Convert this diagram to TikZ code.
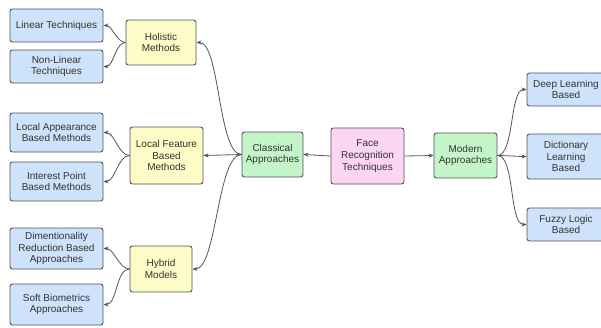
\documentclass[tikz,border=0pt]{standalone}
\usepackage{fontspec}
\setmainfont{Liberation Sans}
\usetikzlibrary{arrows.meta}
\definecolor{bluef}{HTML}{CFE2FB}
\definecolor{yellowf}{HTML}{FDFBC6}
\definecolor{greenf}{HTML}{C4F5C8}
\definecolor{pinkf}{HTML}{FCD4F4}
\definecolor{edgec}{HTML}{505356}
\definecolor{txtc}{HTML}{333333}
\begin{document}
\begin{tikzpicture}[x=1pt,y=-1pt,
  box/.style={draw=edgec, line width=0.9pt, rounded corners=2.5pt, align=center,
    inner sep=0pt, text=txtc, font=\fontsize{10}{11.7}\selectfont},
  bluebox/.style={box, fill=bluef},
  yellowbox/.style={box, fill=yellowf},
  greenbox/.style={box, fill=greenf},
  pinkbox/.style={box, fill=pinkf},
  conn/.style={draw=edgec, line width=0.8pt, -{Stealth[length=5pt,width=4pt]}}]
\useasboundingbox (0,0) rectangle (601,327);
\begin{scope}
\clip (0,0) rectangle (601,327);
\node[bluebox, minimum width=93pt, minimum height=33pt] (lin) at (56.5,25.5) {Linear Techniques};
\node[bluebox, minimum width=93pt, minimum height=33pt] (nonlin) at (56.5,66.5) {Non-Linear\\Techniques};
\node[yellowbox, minimum width=70pt, minimum height=45pt] (hol) at (161,42.5) {Holistic\\Methods};
\node[bluebox, minimum width=93pt, minimum height=39pt] (locapp) at (56.5,132.5) {Local Appearance\\Based Methods};
\node[bluebox, minimum width=93pt, minimum height=39pt] (intp) at (56.5,181.5) {Interest Point\\Based Methods};
\node[yellowbox, minimum width=73pt, minimum height=57pt] (locf) at (166.5,155.5) {Local Feature\\Based\\Methods};
\node[bluebox, minimum width=93pt, minimum height=41pt] (dim) at (56.5,248.5) {Dimentionality\\Reduction Based\\Approaches};
\node[bluebox, minimum width=93pt, minimum height=41pt] (soft) at (56.5,304.5) {Soft Biometrics\\Approaches};
\node[yellowbox, minimum width=62pt, minimum height=46pt] (hyb) at (161,269) {Hybrid\\Models};
\node[greenbox, minimum width=61pt, minimum height=45pt] (clas) at (272.5,154.5) {Classical\\Approaches};
\node[pinkbox, minimum width=73pt, minimum height=56pt] (face) at (367.5,156) {Face\\Recognition\\Techniques};
\node[greenbox, minimum width=63pt, minimum height=45pt] (mod) at (465.5,155.5) {Modern\\Approaches};
\node[bluebox, minimum width=78pt, minimum height=33pt] (deep) at (566,89.5) {Deep Learning\\Based};
\node[bluebox, minimum width=78pt, minimum height=45pt] (dict) at (566,156.5) {Dictionary\\Learning\\Based};
\node[bluebox, minimum width=78pt, minimum height=33pt] (fuzzy) at (566,224.5) {Fuzzy Logic\\Based};

\draw[conn] (face.west) -- (clas.east);
\draw[conn] (face.east) -- (mod.west);
\draw[conn] (clas.west) -- (locf.east);
\draw[conn] (clas.west) to[out=180,in=0,looseness=0.5] (hol.east);
\draw[conn] (clas.west) to[out=180,in=0,looseness=0.5] (hyb.east);
\draw[conn] (hol.west) to[out=180,in=0,looseness=0.8] (lin.east);
\draw[conn] (hol.west) to[out=180,in=0,looseness=0.8] (nonlin.east);
\draw[conn] (locf.west) to[out=180,in=0,looseness=0.8] (locapp.east);
\draw[conn] (locf.west) to[out=180,in=0,looseness=0.8] (intp.east);
\draw[conn] (hyb.west) to[out=180,in=0,looseness=0.8] (dim.east);
\draw[conn] (hyb.west) to[out=180,in=0,looseness=0.8] (soft.east);
\draw[conn] (mod.east) to[out=0,in=180,looseness=0.6] (deep.west);
\draw[conn] (mod.east) to[out=0,in=180,looseness=0.6] (dict.west);
\draw[conn] (mod.east) to[out=0,in=180,looseness=0.6] (fuzzy.west);
\end{scope}
\end{tikzpicture}
\end{document}
